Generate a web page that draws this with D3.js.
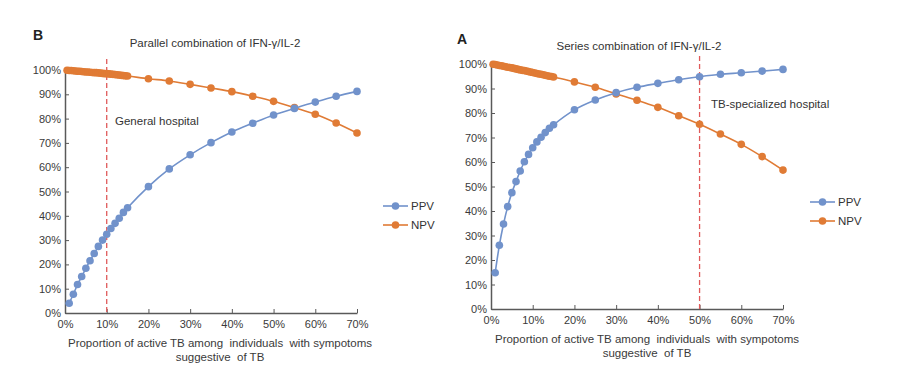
<!DOCTYPE html>
<html><head><meta charset="utf-8">
<script src="https://cdn.jsdelivr.net/npm/d3@7"></script>
<style>body{margin:0;background:#fff;} svg{display:block;font-family:"Liberation Sans",Arial,sans-serif;}</style>
</head><body>
<svg id="c" width="900" height="378"></svg>
<script>
// x categories (% active TB)
const xPPV = [1,2,3,4,5,6,7,8,9,10,11,12,13,14,15,20,25,30,35,40,45,50,55,60,65,70];
const xNPV = [0.5,1,1.5,2,2.5,3,3.5,4,4.5,5,5.5,6,6.5,7,7.5,8,8.5,9,9.5,10,10.5,11,11.5,12,12.5,13,13.5,14,14.5,15,20,25,30,35,40,45,50,55,60,65,70];
// Panel B: Parallel combination
const parallelPPV = [4.0,7.7,11.7,15.0,18.4,21.5,24.5,27.4,30.0,32.4,34.8,36.9,39.0,41.4,43.3,52.0,59.3,65.1,70.1,74.5,78.1,81.5,84.2,86.8,89.2,91.2];
const parallelNPV = [99.9,99.8,99.8,99.7,99.6,99.5,99.5,99.4,99.3,99.2,99.2,99.1,99.0,98.9,98.9,98.8,98.7,98.6,98.5,98.5,98.4,98.3,98.2,98.1,98.0,97.9,97.8,97.7,97.6,97.5,96.4,95.5,94.1,92.6,91.1,89.2,87.1,84.5,81.8,78.2,74.1];
// Panel A: Series combination
const seriesPPV = [14.8,26.0,34.7,41.8,47.5,52.0,56.3,60.1,63.1,65.8,68.2,70.1,72.0,73.8,75.2,81.3,85.3,88.3,90.5,92.1,93.6,94.8,95.8,96.4,97.1,97.8];
const seriesNPV = [99.9,99.8,99.6,99.4,99.3,99.1,98.9,98.7,98.6,98.4,98.2,98.0,97.8,97.6,97.4,97.3,97.1,96.9,96.7,96.5,96.3,96.1,95.9,95.8,95.6,95.4,95.2,95.0,94.9,94.7,92.7,90.5,87.8,85.2,82.3,78.9,75.4,71.4,67.2,62.2,56.7];
const xTicks = [0,10,20,30,40,50,60,70];
const yTicks = [0,10,20,30,40,50,60,70,80,90,100];
const seriesNames = ["PPV","NPV"];
const colors = {PPV:"#7192cb", NPV:"#e07b35"};

const svg = d3.select("#c");
svg.append("rect").attr("width",900).attr("height",378).attr("fill","#fff");

function panel(o){
  const g = svg.append("g");
  const x = d3.scaleLinear().domain([0,70]).range([o.x0,o.x1]);
  const y = d3.scaleLinear().domain([0,100]).range([o.y0,o.y1]);
  const xa = g.append("g").attr("transform",`translate(0,${o.y0})`)
    .call(d3.axisBottom(x).tickValues(xTicks).tickFormat(d=>d+"%").tickSizeInner(-4).tickSizeOuter(0).tickPadding(7));
  const ya = g.append("g").attr("transform",`translate(${o.x0},0)`)
    .call(d3.axisLeft(y).tickValues(yTicks).tickFormat(d=>d+"%").tickSizeInner(-4).tickSizeOuter(0).tickPadding(4));
  [xa,ya].forEach(a=>{
    a.select(".domain").attr("stroke","#595959").attr("stroke-width",1.5);
    a.selectAll(".tick line").attr("stroke","#595959");
    a.selectAll(".tick text").attr("fill","#3a3a3a").attr("font-size",11);
  });
  g.append("line").attr("x1",x(o.ref)).attr("x2",x(o.ref)).attr("y1",o.refTop).attr("y2",o.y0)
    .attr("stroke","#e05a5a").attr("stroke-width",1.3).attr("stroke-dasharray","5,3");
  g.append("text").attr("x",o.refLabelX).attr("y",o.refLabelY).attr("font-size",11.5).attr("fill","#333").text(o.refLabel);
  const line = d3.line().x(d=>x(d[0])).y(d=>y(d[1])).curve(d3.curveMonotoneX);
  const sets = [
    {name:"NPV", pts:xNPV.map((v,i)=>[v,o.npv[i]])},
    {name:"PPV", pts:xPPV.map((v,i)=>[v,o.ppv[i]])}
  ];
  sets.forEach(s=>{
    g.append("path").attr("d",line(s.pts)).attr("fill","none").attr("stroke",colors[s.name]).attr("stroke-width",1.6);
    g.selectAll(null).data(s.pts).enter().append("circle")
      .attr("cx",d=>x(d[0])).attr("cy",d=>y(d[1])).attr("r",3.8).attr("fill",colors[s.name]);
  });
  g.append("text").attr("x",o.letterX).attr("y",o.letterY).attr("font-size",14).attr("font-weight","bold").attr("fill","#222").text(o.letter);
  g.append("text").attr("x",o.titleX).attr("y",o.titleY).attr("text-anchor","middle").attr("font-size",11.5).attr("fill","#333").text(o.title);
  const xl = g.append("text").attr("text-anchor","middle").attr("font-size",11.5).attr("fill","#3a3a3a");
  xl.append("tspan").attr("x",o.xlabX).attr("y",o.xlabY).style("white-space","pre").text("Proportion of active TB among  individuals  with sympotoms");
  xl.append("tspan").attr("x",o.xlabX).attr("y",o.xlabY+13.5).text("suggestive  of TB").style("white-space","pre");
  seriesNames.forEach((n,i)=>{
    const ly = o.legY + i*19;
    g.append("line").attr("x1",o.legX).attr("x2",o.legX+25).attr("y1",ly).attr("y2",ly).attr("stroke",colors[n]).attr("stroke-width",1.6);
    g.append("circle").attr("cx",o.legX+12.5).attr("cy",ly).attr("r",3.8).attr("fill",colors[n]);
    g.append("text").attr("x",o.legX+28).attr("y",ly+4).attr("font-size",11.5).attr("fill","#333").text(n);
  });
}

panel({x0:65,x1:357,y0:313,y1:70,ppv:parallelPPV,npv:parallelNPV,ref:10,refTop:59,
  refLabel:"General hospital",refLabelX:115,refLabelY:125,
  letter:"B",letterX:33,letterY:40,title:"Parallel combination of IFN-γ/IL-2",titleX:215,titleY:47,
  xlabX:220,xlabY:347,legX:383,legY:206});
panel({x0:491,x1:783,y0:309,y1:64,ppv:seriesPPV,npv:seriesNPV,ref:50,refTop:56,
  refLabel:"TB-specialized hospital",refLabelX:711,refLabelY:108,
  letter:"A",letterX:457,letterY:44,title:"Series combination of IFN-γ/IL-2",titleX:639,titleY:50,
  xlabX:647,xlabY:343,legX:810,legY:202});
</script>
</body></html>
